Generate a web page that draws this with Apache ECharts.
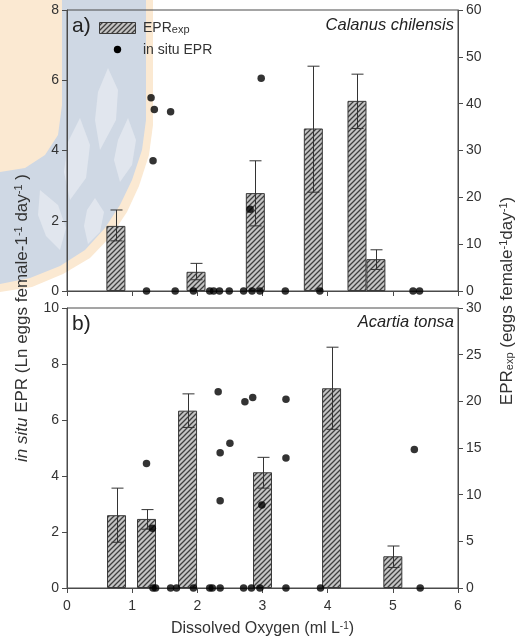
<!DOCTYPE html>
<html><head><meta charset="utf-8">
<script src="https://cdn.jsdelivr.net/npm/echarts@6/dist/echarts.min.js"></script>
<style>html,body{margin:0;padding:0;background:#fff}#c{width:522px;height:641px}</style>
</head><body><div id="c"></div>
<script>
// ---------- Data ----------
const xTickLabels = ['0','1','2','3','4','5','6'];
// Panel a) Calanus chilensis  (bars: EPRexp, right axis; dots: in situ EPR, left axis)
const aBarX  = [0.75, 1.98, 2.89, 3.78, 4.45, 4.74];
const aBarY  = [13.9, 4.1, 20.9, 34.7, 40.6, 6.8];
const aErrLo = [10.7, 2.4, 13.9, 21.1, 34.7, 4.6];
const aErrHi = [17.3, 5.9, 27.8, 48.0, 46.3, 8.8];
const aDotX  = [1.29, 1.34, 1.32, 1.59, 2.98, 2.81, 1.22, 1.66, 1.94, 2.19, 2.25, 2.34, 2.49, 2.71, 2.84, 2.96, 3.35, 3.88, 5.31, 5.41];
const aDotY  = [5.50, 5.17, 3.71, 5.10, 6.06, 2.33, 0, 0, 0, 0, 0, 0, 0, 0, 0, 0, 0, 0, 0, 0];
// Panel b) Acartia tonsa
const bBarX  = [0.76, 1.22, 1.85, 3.00, 4.06, 5.00];
const bBarY  = [7.8, 7.4, 19.0, 12.4, 21.4, 3.4];
const bErrLo = [4.9, 6.3, 17.2, 10.7, 17.0, 2.2];
const bErrHi = [10.7, 8.4, 20.8, 14.0, 25.8, 4.5];
const bDotX  = [1.22, 1.31, 2.32, 2.35, 2.35, 2.50, 2.73, 2.85, 2.99, 3.36, 3.36, 5.33, 1.32, 1.36, 1.59, 1.68, 1.94, 2.19, 2.23, 2.35, 2.71, 2.83, 2.96, 3.36, 3.89, 5.42];
const bDotY  = [4.45, 2.13, 7.01, 4.83, 3.12, 5.17, 6.65, 6.80, 2.96, 6.74, 4.64, 4.95, 0, 0, 0, 0, 0, 0, 0, 0, 0, 0, 0, 0, 0, 0];

// ---------- Helpers ----------
const zip2 = (a, b) => a.map((v, i) => [v, b[i]]);
const zip3 = (a, b, c) => a.map((v, i) => [v, b[i], c[i]]);

const P = 5;
const pc = document.createElement('canvas'); pc.width = P; pc.height = P;
const g = pc.getContext('2d');
g.fillStyle = '#c4c4c4'; g.fillRect(0, 0, P, P);
g.strokeStyle = '#3e3e3e'; g.lineWidth = 1.3;
g.beginPath();
g.moveTo(0, P); g.lineTo(P, 0);
g.moveTo(-P, P); g.lineTo(P, -P);
g.moveTo(0, 2 * P); g.lineTo(2 * P, 0);
g.stroke();
const hatch = { image: pc, repeat: 'repeat' };

const FONT = 'Liberation Sans';
const TXT = '#333';
const AX = '#4a4a4a';

function errItem(params, api) {
  const x = api.value(0), lo = api.value(1), hi = api.value(2);
  const pH = api.coord([x, hi]), pL = api.coord([x, lo]);
  const w = 6, st = { stroke: '#333', lineWidth: 1 };
  const cx = Math.round(pH[0]) + 0.5;
  return { type: 'group', children: [
    { type: 'line', shape: { x1: cx, y1: pH[1], x2: cx, y2: pL[1] }, style: st },
    { type: 'line', shape: { x1: cx - w, y1: pH[1], x2: cx + w, y2: pH[1] }, style: st },
    { type: 'line', shape: { x1: cx - w, y1: pL[1], x2: cx + w, y2: pL[1] }, style: st }
  ]};
}

const yAx = (grid, pos, max, interval) => ({
  type: 'value', gridIndex: grid, position: pos, min: 0, max: max, interval: interval,
  axisLine: { show: true, lineStyle: { color: AX } },
  axisTick: { show: true, length: 5, lineStyle: { color: AX } },
  axisLabel: { color: TXT, fontFamily: FONT, fontSize: 14, margin: 8 },
  splitLine: { show: false }
});
const xAx = (grid, labels) => ({
  type: 'value', gridIndex: grid, min: 0, max: 6, interval: 1,
  axisLine: { show: true, onZero: false, lineStyle: { color: AX } },
  axisTick: { show: true, length: 5, lineStyle: { color: AX } },
  axisLabel: { show: labels, color: TXT, fontFamily: FONT, fontSize: 14, margin: 11,
               formatter: v => xTickLabels[Math.round(v)] },
  splitLine: { show: false }
});

const richBase = {
  n:   { fontFamily: FONT, fontSize: 17, fill: TXT, color: TXT },
  it:  { fontFamily: FONT, fontSize: 17, fontStyle: 'italic', fill: TXT, color: TXT },
  sup: { fontFamily: FONT, fontSize: 11, verticalAlign: 'top', fill: TXT, color: TXT },
  sub: { fontFamily: FONT, fontSize: 11, verticalAlign: 'bottom', fill: TXT, color: TXT }
};

const option = {
  animation: false,
  backgroundColor: '#fff',
  grid: [
    { left: 67, right: 64, top: 10, height: 281, show: true, borderColor: AX, borderWidth: 1 },
    { left: 67, right: 64, top: 308, height: 280, show: true, borderColor: AX, borderWidth: 1 }
  ],
  xAxis: [
    xAx(0, false),
    Object.assign(xAx(1, true), {
      name: 'Dissolved Oxygen (ml L{sup|-1})', nameLocation: 'middle', nameGap: 33,
      nameTextStyle: { color: TXT, fontFamily: FONT, fontSize: 16,
        rich: { sup: { fontFamily: FONT, fontSize: 10, verticalAlign: 'top', color: TXT } } }
    })
  ],
  yAxis: [
    yAx(0, 'left', 8, 2),
    yAx(0, 'right', 60, 10),
    yAx(1, 'left', 10, 2),
    yAx(1, 'right', 30, 5)
  ],
  series: [
    { type: 'bar', xAxisIndex: 0, yAxisIndex: 1, barWidth: 19, data: zip2(aBarX, aBarY),
      itemStyle: { color: hatch, borderColor: '#3a3a3a', borderWidth: 1 }, z: 2 },
    { type: 'custom', xAxisIndex: 0, yAxisIndex: 1, renderItem: errItem, data: zip3(aBarX, aErrLo, aErrHi),
      encode: { x: 0, y: [1, 2] }, z: 3 },
    { type: 'scatter', xAxisIndex: 0, yAxisIndex: 0, symbolSize: 7.5, data: zip2(aDotX, aDotY),
      itemStyle: { color: '#000' }, z: 4 },
    { type: 'bar', xAxisIndex: 1, yAxisIndex: 3, barWidth: 19, data: zip2(bBarX, bBarY),
      itemStyle: { color: hatch, borderColor: '#3a3a3a', borderWidth: 1 }, z: 2 },
    { type: 'custom', xAxisIndex: 1, yAxisIndex: 3, renderItem: errItem, data: zip3(bBarX, bErrLo, bErrHi),
      encode: { x: 0, y: [1, 2] }, z: 3 },
    { type: 'scatter', xAxisIndex: 1, yAxisIndex: 2, symbolSize: 7.5, data: zip2(bDotX, bDotY),
      itemStyle: { color: '#000' }, z: 4 }
  ],
  graphic: [
    // faint watermark behind the chart
    { type: 'polygon', z: -10, shape: { points: [[0,0],[153,0],[153,125],[149,155],[139,186],[127,212],[111,236],[90,258],[63,274],[32,287],[0,292]] },
      style: { fill: '#fbe9d2' } },
    { type: 'polygon', z: -9, shape: { points: [[62,0],[146,0],[146,120],[142,150],[132,180],[120,205],[105,228],[85,250],[60,266],[30,278],[0,284],[0,172],[25,168],[45,155],[58,135],[62,105]] },
      style: { fill: '#cfd8e4' } },
    { type: 'polygon', z: -8, shape: { points: [[108,68],[118,90],[116,120],[100,150],[95,120],[98,92]] }, style: { fill: '#e1e6ee' } },
    { type: 'polygon', z: -8, shape: { points: [[80,118],[90,145],[86,178],[70,200],[64,172],[68,142]] }, style: { fill: '#e1e6ee' } },
    { type: 'polygon', z: -8, shape: { points: [[128,118],[136,140],[132,165],[120,182],[114,160],[118,140]] }, style: { fill: '#e1e6ee' } },
    { type: 'polygon', z: -8, shape: { points: [[40,190],[58,205],[66,228],[60,250],[46,236],[38,215]] }, style: { fill: '#e1e6ee' } },
    { type: 'polygon', z: -8, shape: { points: [[95,198],[104,212],[100,232],[88,244],[84,226],[87,210]] }, style: { fill: '#e1e6ee' } },
    // panel letters
    { type: 'text', x: 72, y: 26, style: { text: 'a)', font: '21px "Liberation Sans"', fill: '#222', textVerticalAlign: 'middle' } },
    { type: 'text', x: 72, y: 324, style: { text: 'b)', font: '21px "Liberation Sans"', fill: '#222', textVerticalAlign: 'middle' } },
    // species
    { type: 'text', x: 454, y: 25, style: { text: 'Calanus chilensis', font: 'italic 16.5px "Liberation Sans"', fill: '#222', textAlign: 'right', textVerticalAlign: 'middle' } },
    { type: 'text', x: 454, y: 322, style: { text: 'Acartia tonsa', font: 'italic 16.5px "Liberation Sans"', fill: '#222', textAlign: 'right', textVerticalAlign: 'middle' } },
    // legend
    { type: 'rect', shape: { x: 99.5, y: 22.5, width: 36, height: 11 }, style: { fill: hatch, stroke: '#3a3a3a', lineWidth: 1 } },
    { type: 'text', x: 143, y: 28, style: { text: 'EPR{sub|exp}', textVerticalAlign: 'middle', fill: TXT,
        font: '14px "Liberation Sans"',
        rich: { sub: { fontFamily: FONT, fontSize: 11, verticalAlign: 'bottom', fill: TXT } } } },
    { type: 'circle', shape: { cx: 117.5, cy: 49.5, r: 3.7 }, style: { fill: '#000' } },
    { type: 'text', x: 143, y: 50, style: { text: 'in situ EPR', font: '14px "Liberation Sans"', fill: TXT, textVerticalAlign: 'middle' } },
    // y-axis titles
    { type: 'text', x: 22, y: 318, rotation: Math.PI / 2,
      style: { text: '{it|in situ}{n| EPR (Ln eggs female-1}{sup|-1}{n| day}{sup|-1}{n| )}', textAlign: 'center', textVerticalAlign: 'middle', rich: richBase } },
    { type: 'text', x: 507, y: 301, rotation: Math.PI / 2,
      style: { text: '{n|EPR}{sub|exp}{n| (eggs female}{sup|-1}{n|day}{sup|-1}{n|)}', textAlign: 'center', textVerticalAlign: 'middle', rich: richBase } }
  ]
};
const chart = echarts.init(document.getElementById('c'), null, { renderer: 'canvas' });
chart.setOption(option);
</script>
</body></html>
